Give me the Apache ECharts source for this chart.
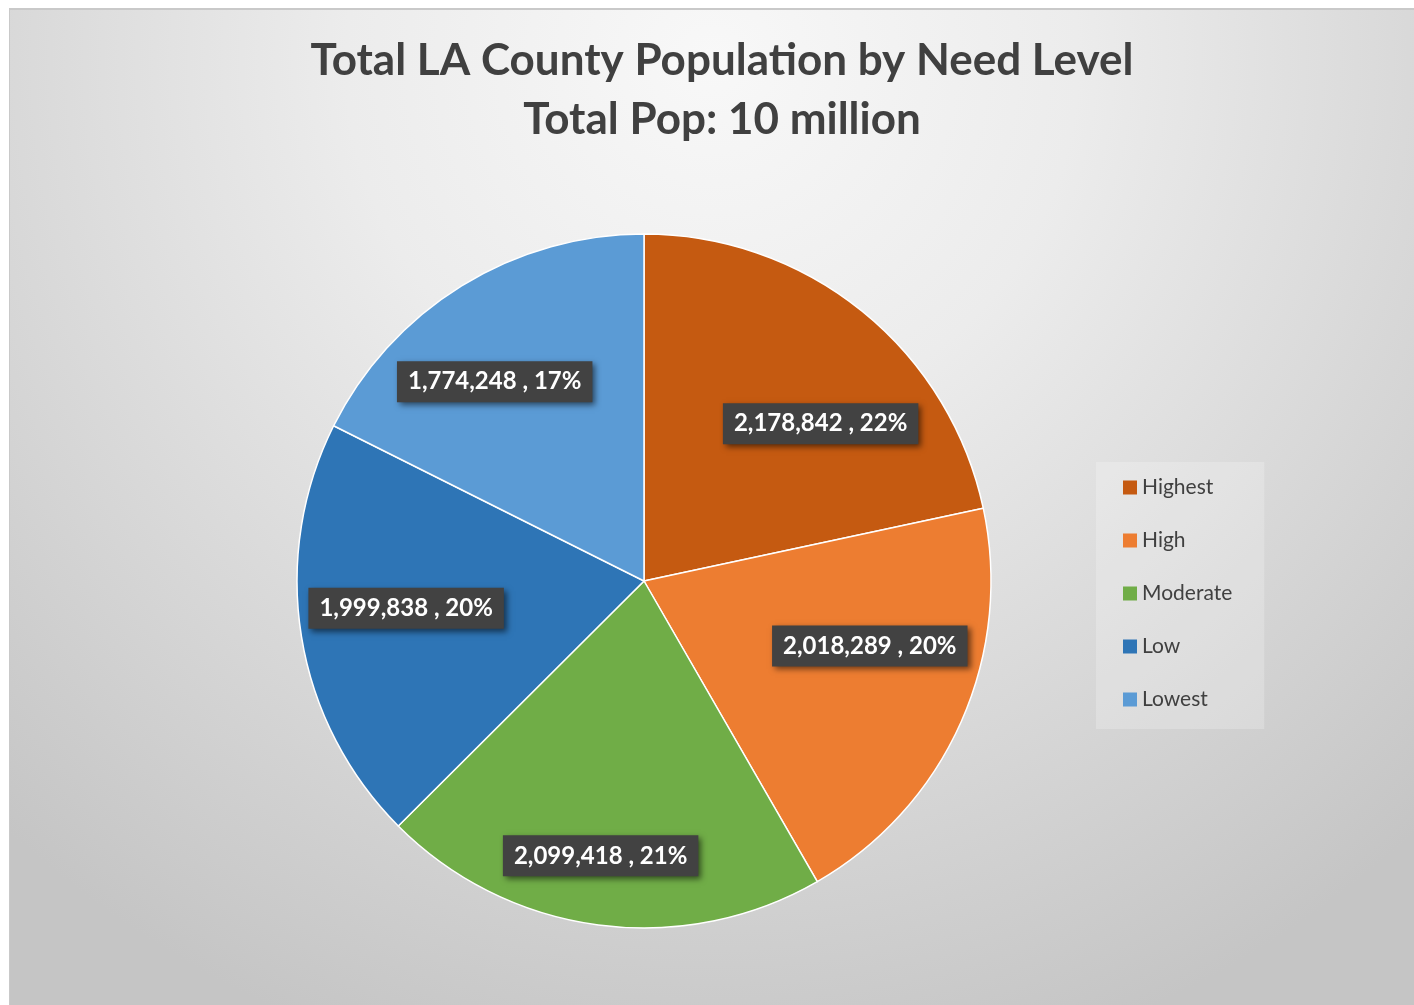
<!DOCTYPE html>
<html>
<head>
<meta charset="utf-8">
<script src="https://cdn.jsdelivr.net/npm/echarts@6/dist/echarts.min.js"></script>
<style>
html,body{margin:0;padding:0;background:#ffffff;width:1414px;height:1005px;overflow:hidden;}
#frame{position:absolute;left:9px;top:8px;width:1405px;height:997px;border-top:2px solid #c9c9c9;border-left:1px solid #c9c9c9;box-sizing:border-box;}
#chart{position:absolute;left:0;top:0;width:1404px;height:995px;}
</style>
</head>
<body>
<div id="frame"><div id="chart"></div></div>
<script>
const categories = ['Highest', 'High', 'Moderate', 'Low', 'Lowest'];
const populations = [2178842, 2018289, 2099418, 1999838, 1774248];
const sliceColors = ['#C55A11', '#ED7D31', '#70AD47', '#2E75B6', '#5B9BD5'];
const titleText = 'Total LA County Population by Need Level\nTotal Pop: 10 million';

// label nudges (style only) to mimic the spreadsheet "best fit" placement
const labelNudge = [[22, 34], [1, -35], [-11, 31], [5, -12], [-20, 10]];

const FONT = 'Lato, "Open Sans", sans-serif';
const pieData = categories.map((name, i) => ({ name: name, value: populations[i], itemStyle: { color: sliceColors[i] } }));
const labelData = categories.map((name, i) => ({ name: name, value: populations[i] }));

const chart = echarts.init(document.getElementById('chart'), null, { renderer: 'canvas' });
chart.setOption({
  animation: false,
  backgroundColor: {
    type: 'radial', x: 0.5, y: 0.05, r: 1.05,
    colorStops: [
      { offset: 0, color: '#f8f8f8' },
      { offset: 0.35, color: '#ececec' },
      { offset: 1, color: '#c5c5c5' }
    ]
  },
  title: {
    text: titleText,
    left: 712,
    textAlign: 'center',
    top: 21,
    padding: 0,
    textStyle: { fontFamily: FONT, fontSize: 44, fontWeight: 'bold', color: '#404040', lineHeight: 59 }
  },
  legend: {
    orient: 'vertical',
    left: 1086,
    top: 452,
    data: categories,
    icon: 'rect',
    itemWidth: 14,
    itemHeight: 14,
    itemGap: 32,
    itemStyle: { borderWidth: 0 },
    padding: [15, 32, 19, 27],
    backgroundColor: 'rgba(255,255,255,0.22)',
    textStyle: { fontFamily: FONT, fontSize: 21, color: '#404040', lineHeight: 21 }
  },
  series: [
    {
      name: 'Population',
      type: 'pie',
      center: [634, 571],
      radius: [0, 347],
      startAngle: 90,
      clockwise: true,
      silent: true,
      percentPrecision: 0,
      label: { show: false },
      labelLine: { show: false },
      itemStyle: { borderColor: '#ffffff', borderWidth: 1.5 },
      data: pieData
    },
    {
      name: 'Labels',
      type: 'pie',
      center: [634, 571],
      radius: [139, 347],
      startAngle: 90,
      clockwise: true,
      silent: true,
      percentPrecision: 0,
      itemStyle: { color: 'rgba(0,0,0,0)', borderWidth: 0 },
      labelLine: { show: false },
      label: {
        show: true,
        position: 'inside',
        formatter: p => p.value.toLocaleString('en-US') + ' , ' + p.percent + '%',
        fontFamily: FONT,
        fontSize: 24,
        lineHeight: 24,
        fontWeight: 'bold',
        color: '#ffffff',
        backgroundColor: '#424242',
        padding: [9, 11, 8, 11],
        shadowColor: 'rgba(0,0,0,0.55)',
        shadowBlur: 6,
        shadowOffsetX: 3,
        shadowOffsetY: 3
      },
      labelLayout: p => ({ dx: labelNudge[p.dataIndex][0], dy: labelNudge[p.dataIndex][1] }),
      data: labelData
    }
  ]
});
</script>
</body>
</html>
